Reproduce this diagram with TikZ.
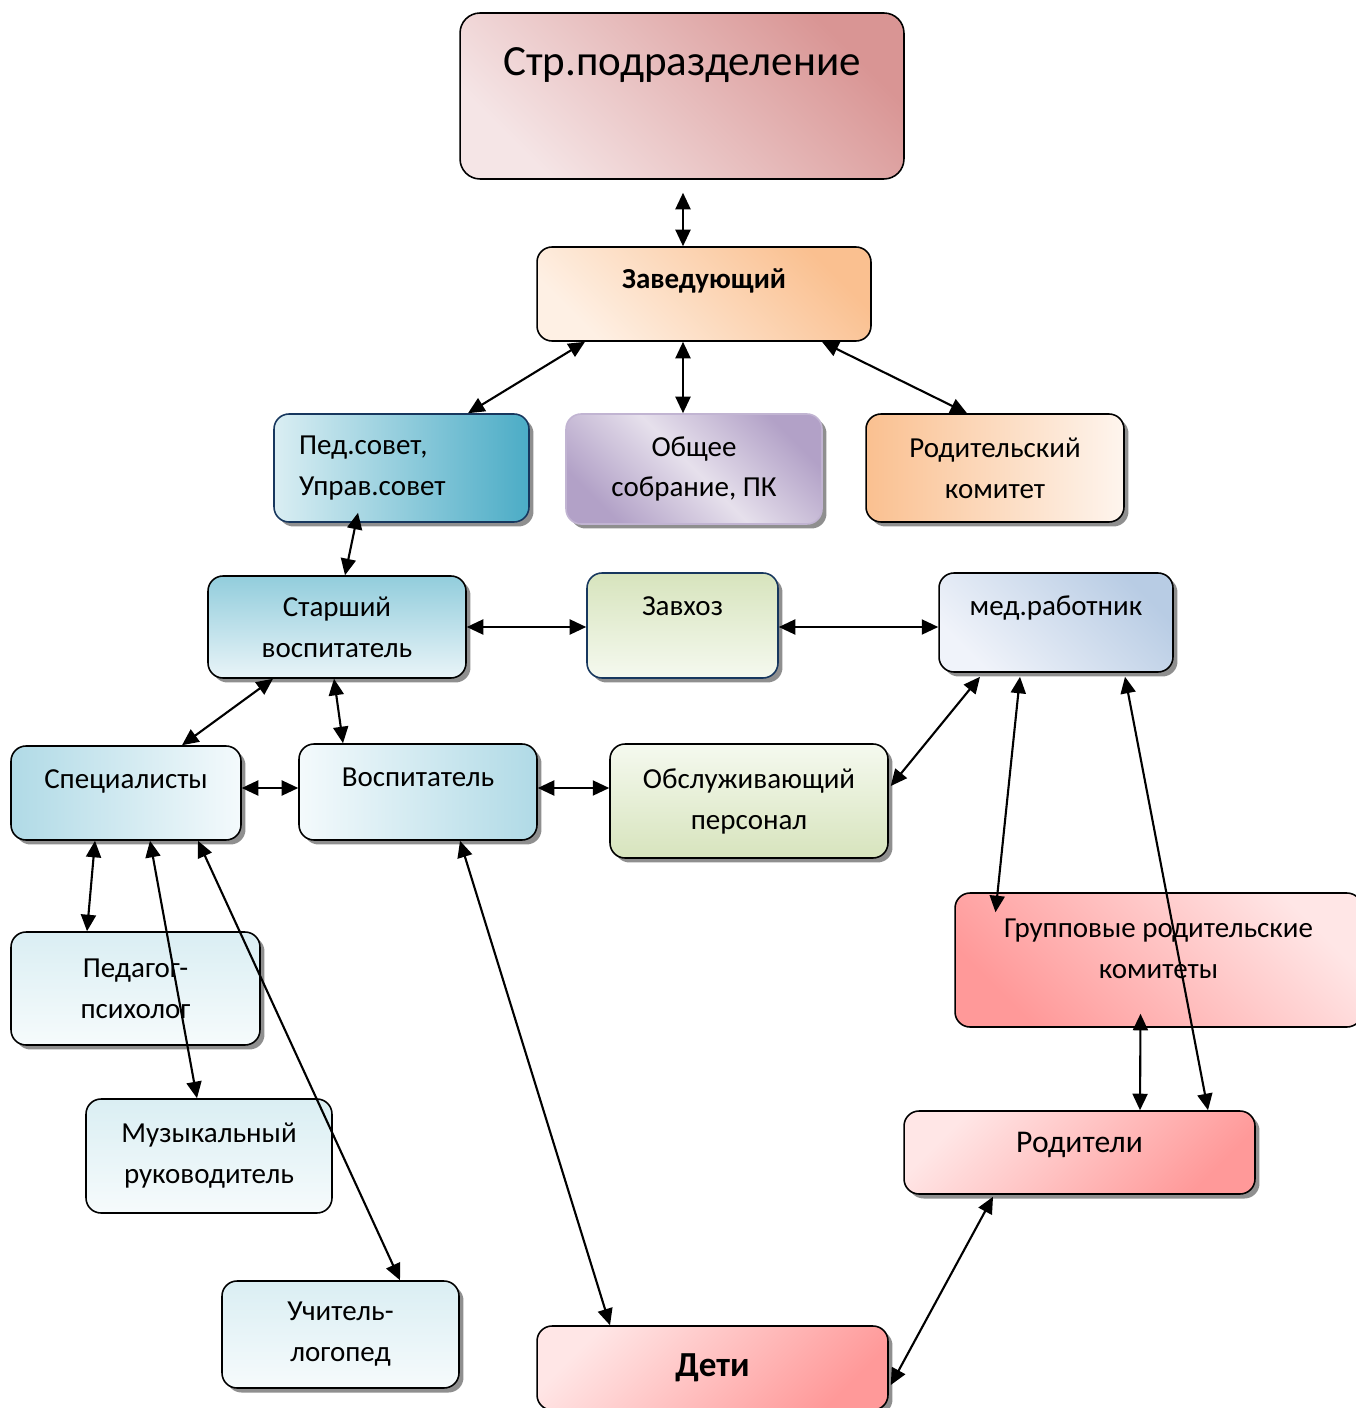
\documentclass[tikz,border=0pt]{standalone}
\usepackage{fontspec}
\setmainfont{Carlito}
\usetikzlibrary{arrows.meta,calc,shadows}

\definecolor{strlight}{HTML}{F5E5E6}
\definecolor{strdark}{HTML}{D99594}
\definecolor{zavlight}{HTML}{FEF0E4}
\definecolor{zavdark}{HTML}{FAC090}
\definecolor{pedlight}{HTML}{DAEEF3}
\definecolor{peddark}{HTML}{4BACC6}
\definecolor{obshlight}{HTML}{E6E0EC}
\definecolor{obshdark}{HTML}{B2A1C7}
\definecolor{rodlight}{HTML}{FEF5EE}
\definecolor{stardark}{HTML}{92CDDC}
\definecolor{starlight}{HTML}{E9F4F8}
\definecolor{greendark}{HTML}{D7E4BD}
\definecolor{greenlight}{HTML}{F5F9EF}
\definecolor{medlight}{HTML}{F0F3FA}
\definecolor{meddark}{HTML}{B8CCE4}
\definecolor{bluedark}{HTML}{B0DAE6}
\definecolor{bluelight}{HTML}{F4FAFC}
\definecolor{reddark}{HTML}{FF9999}
\definecolor{redlight}{HTML}{FFE6E6}
\definecolor{palelight}{HTML}{F6FBFC}
\definecolor{navy}{HTML}{17375E}

\tikzset{
	box/.style={draw, rounded corners=0.3cm, line width=0.9pt, align=center,
		font=\fontsize{16.5}{23.3}\selectfont},
	shadowed/.style={drop shadow={shadow xshift=0.09cm, shadow yshift=-0.09cm, fill=black!55, opacity=0.8}},
	up/.style={text height=0.35cm, text depth=#1},
	link/.style={<->, >={Triangle[length=0.33cm,width=0.3cm]}, line width=1.2pt}
}

\begin{document}
\begin{tikzpicture}[x=0.02cm,y=-0.02cm]
	\useasboundingbox (0,0) rectangle (1355,1408);
	\node[box, rounded corners=0.4cm, minimum width=8.88cm, minimum height=3.32cm, top color=strdark, bottom color=strlight, shading angle=-45, font=\fontsize{24.5}{30}\selectfont, up=1.15cm] (str) at (682,96) {Стр.подразделение};
	\node[box, minimum width=6.68cm, minimum height=1.88cm, top color=zavdark, bottom color=zavlight, shading angle=-45, font=\fontsize{16.5}{23.3}\selectfont\bfseries, up=0.55cm] (zav) at (704,294) {Заведующий};

	\node[box, shadowed, draw=navy, minimum width=5.1cm, minimum height=2.16cm, left color=pedlight, right color=peddark, align=left, text width=4.1cm] (ped) at (401.5,468) {Пед.совет,\\Управ.совет};
	\node[box, shadowed, draw=obshdark!80, minimum width=5.12cm, minimum height=2.2cm, top color=obshdark, bottom color=obshdark, middle color=obshlight, shading angle=-45] (obsh) at (694,469) {Общее\\собрание, ПК};
	\node[box, shadowed, minimum width=5.16cm, minimum height=2.16cm, left color=zavdark, right color=rodlight] (rodkom) at (995,468) {Родительский\\комитет};

	\node[box, shadowed, minimum width=5.16cm, minimum height=2.04cm, top color=stardark, bottom color=starlight] (starsh) at (337,627) {Старший\\воспитатель};
	\node[box, shadowed, draw=navy, minimum width=3.82cm, minimum height=2.1cm, top color=greendark, bottom color=greenlight, up=0.77cm] (zavhoz) at (682.5,625.5) {Завхоз};
	\node[box, shadowed, minimum width=4.68cm, minimum height=1.98cm, top color=meddark, bottom color=medlight, shading angle=-45, up=0.65cm] (med) at (1056,622.5) {мед.работник};

	\node[box, shadowed, minimum width=4.6cm, minimum height=1.88cm, left color=bluedark, right color=bluelight, up=0.55cm] (spec) at (126,793) {Специалисты};
	\node[box, shadowed, minimum width=4.76cm, minimum height=1.92cm, left color=bluelight, right color=bluedark, up=0.59cm] (vosp) at (418,792) {Воспитатель};
	\node[box, shadowed, minimum width=5.56cm, minimum height=2.28cm, top color=greenlight, bottom color=greendark] (obsl) at (749,801) {Обслуживающий\\персонал};

	\node[box, minimum width=8.14cm, minimum height=2.68cm, top color=redlight, bottom color=reddark, shading angle=-45, text height=1.23cm, text depth=0.51cm] (grup) at (1158.5,960) {Групповые родительские\\комитеты};
	\node[box, shadowed, minimum width=4.98cm, minimum height=2.26cm, top color=pedlight, bottom color=palelight] (psych) at (135.5,988.5) {Педагог-\\психолог};
	\node[box, minimum width=4.92cm, minimum height=2.28cm, top color=pedlight, bottom color=palelight] (muz) at (209,1156) {Музыкальный\\руководитель};
	\node[box, shadowed, minimum width=4.74cm, minimum height=2.14cm, top color=pedlight, bottom color=palelight] (logo) at (340.5,1334.5) {Учитель-\\логопед};

	\node[box, shadowed, minimum width=7.02cm, minimum height=1.66cm, top color=redlight, bottom color=reddark, shading angle=45, font=\fontsize{18}{23}\selectfont, up=0.35cm] (rodit) at (1079.5,1152.5) {Родители};
	\node[box, shadowed, minimum width=7.02cm, minimum height=1.68cm, top color=redlight, bottom color=reddark, shading angle=45, font=\fontsize{20}{24}\selectfont\bfseries] (deti) at (712.5,1368) {Дети};

	\draw[link] ($(str.south)+(1,13)$) -- ($(zav.north)+(-21,0)$);
	\draw[link] ($(zav.south)+(-119,0)$) -- ($(ped.north)+(66.5,0)$);
	\draw[link] ($(zav.south)+(-21,0)$) -- ($(obsh.north)+(-11,0)$);
	\draw[link] ($(zav.south)+(118,0)$) -- ($(rodkom.north)+(-28,0)$);
	\draw[link] ($(ped.south)+(-43.5,-10)$) -- ($(starsh.north)+(8,0)$);
	\draw[link] (starsh.east) -- (starsh.east -| zavhoz.west);
	\draw[link] ($(zavhoz.east)+(0,1.5)$) -- ($(zavhoz.east -| med.west)+(0,1.5)$);
	\draw[link] ($(starsh.south)+(-64,0)$) -- ($(spec.north)+(56,0)$);
	\draw[link] ($(starsh.south)+(-3,0)$) -- ($(vosp.north)+(-75,0)$);
	\draw[link] ($(spec.east)+(0,-5)$) -- ($(spec.east -| vosp.west)+(0,-5)$);
	\draw[link] ($(vosp.east)+(0,-4)$) -- ($(vosp.east -| obsl.west)+(0,-4)$);
	\draw[link] ($(med.south)+(-76,4)$) -- ($(obsl.east)+(2,-15)$);
	\draw[link] ($(med.south)+(-36,4)$) -- ($(grup.north)+(-163,20)$);
	\draw[link] ($(med.south)+(69,4)$) -- ($(rodit.north)+(128.5,0)$);
	\draw[link] ($(grup.south)+(-18,-14)$) -- ($(rodit.north)+(60.5,0)$);
	\draw[link] ($(rodit.south)+(-86.5,2)$) -- ($(deti.east)+(2,17)$);
	\draw[link] ($(vosp.south)+(42,0)$) -- ($(deti.north)+(-102.5,0)$);
	\draw[link] ($(spec.south)+(-31,0)$) -- ($(psych.north)+(-48.5,0)$);
	\draw[link] ($(spec.south)+(24,0)$) -- ($(muz.north)+(-12,0)$);
	\draw[link] ($(spec.south)+(72,0)$) -- ($(logo.north)+(59.5,0)$);
\end{tikzpicture}
\end{document}
